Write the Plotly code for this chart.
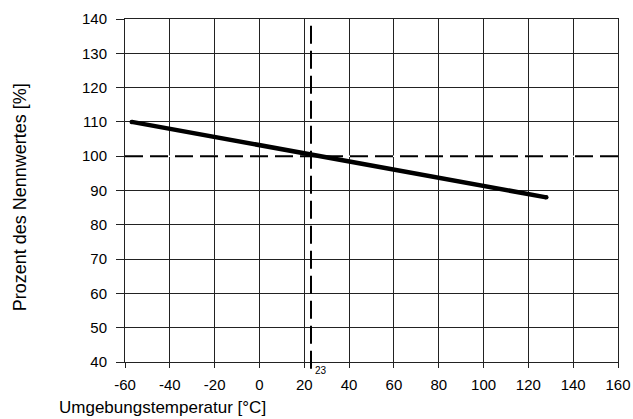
import plotly.graph_objects as go

# Data
temp = [-57, 128]
percent = [110, 88]
ref_temp = 23
ref_pct = 100
x_ticks = [-60, -40, -20, 0, 20, 40, 60, 80, 100, 120, 140, 160]
y_ticks = [40, 50, 60, 70, 80, 90, 100, 110, 120, 130, 140]
x_title = "Umgebungstemperatur [°C]"
y_title = "Prozent des Nennwertes [%]"

FONT = "Liberation Sans"
DASH = "18px,7px"

fig = go.Figure()

# cover the gridline under the dashed reference line (above grid, below traces)
fig.add_shape(type="line", x0=x_ticks[0], x1=x_ticks[-1], y0=ref_pct, y1=ref_pct,
              xref="x", yref="y", layer="between", line=dict(color="white", width=1.5))

# reference dashed lines
fig.add_trace(go.Scatter(x=[x_ticks[0], x_ticks[-1]], y=[ref_pct, ref_pct], mode="lines",
                         line=dict(color="black", width=2, dash=DASH),
                         hoverinfo="skip", showlegend=False))
fig.add_shape(type="line", x0=ref_temp, x1=ref_temp, y0=-0.02, y1=1, xref="x", yref="paper",
              line=dict(color="black", width=2, dash=DASH))

# main curve
fig.add_trace(go.Scatter(x=temp, y=percent, mode="lines+markers",
                         line=dict(color="black", width=4.5),
                         marker=dict(color="black", size=4.5),
                         showlegend=False))

fig.add_annotation(x=ref_temp, y=0, xref="x", yref="paper", text=str(ref_temp),
                   showarrow=False, xanchor="left", yanchor="top", xshift=2, yshift=-1,
                   font=dict(family=FONT, size=10, color="black"))

fig.add_annotation(x=0, y=0, xref="paper", yref="paper", text=x_title, showarrow=False,
                   xanchor="left", yanchor="top", xshift=-68, yshift=-34,
                   font=dict(family=FONT, size=17, color="black"))
fig.add_annotation(x=0, y=0.48, xref="paper", yref="paper", text=y_title, showarrow=False,
                   textangle=-90, xanchor="center", yanchor="middle", xshift=-105,
                   font=dict(family=FONT, size=18, color="black"))

fig.update_xaxes(range=[x_ticks[0], x_ticks[-1]], tickvals=x_ticks, ticktext=[str(v) for v in x_ticks],
                 showgrid=True, gridcolor="#222", gridwidth=1,
                 showline=True, linecolor="#222", linewidth=1, mirror=True,
                 ticks="outside", ticklen=5, tickcolor="#222",
                 tickfont=dict(family=FONT, size=15, color="black"),
                 zeroline=False, ticklabelstandoff=4, automargin=False)
fig.update_yaxes(range=[y_ticks[0], y_ticks[-1]], tickvals=y_ticks, ticktext=[str(v) for v in y_ticks],
                 showgrid=True, gridcolor="#222", gridwidth=1,
                 showline=True, linecolor="#222", linewidth=1, mirror=True,
                 ticks="outside", ticklen=8, tickcolor="#222",
                 tickfont=dict(family=FONT, size=15, color="black"),
                 zeroline=False, ticklabelstandoff=6, automargin=False)

fig.update_layout(width=633, height=419, margin=dict(l=125, r=15, t=19, b=57),
                  plot_bgcolor="white", paper_bgcolor="white", showlegend=False,
                  autosize=False)

fig.write_html("out.html", config={"responsive": False, "displayModeBar": False},
               post_script="document.body.style.margin='0';document.body.style.overflow='hidden';")
